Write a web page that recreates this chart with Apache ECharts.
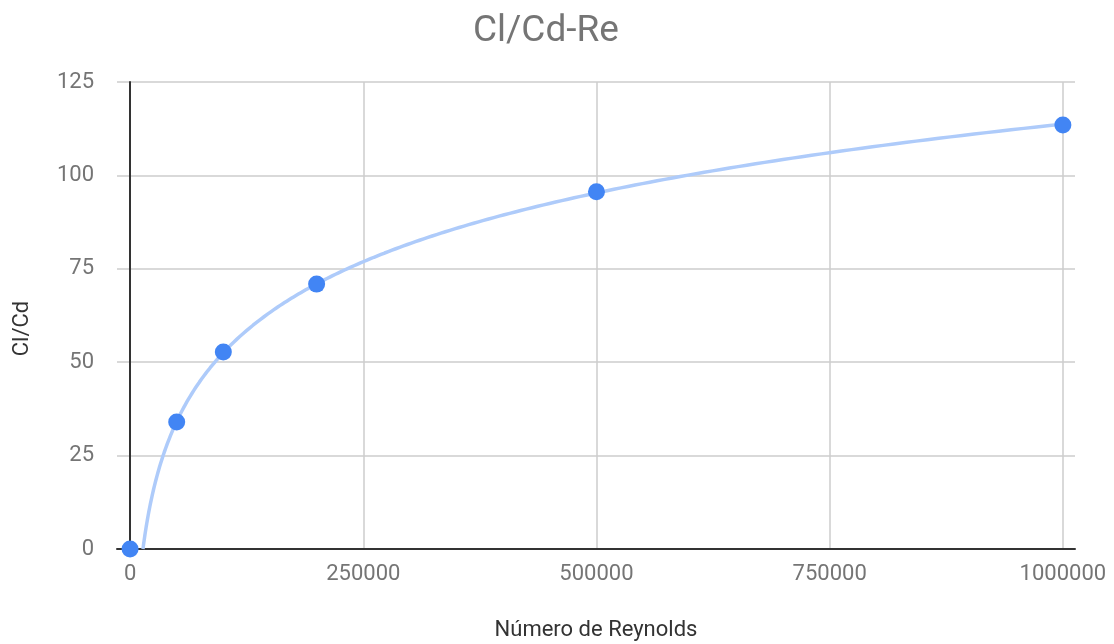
<!DOCTYPE html>
<html>
<head>
<meta charset="utf-8">
<script src="https://cdn.jsdelivr.net/npm/echarts@6/dist/echarts.min.js"></script>
<style>
  html, body { margin: 0; padding: 0; background: #fff; }
  #chart { width: 1114px; height: 644px; }
</style>
</head>
<body>
<div id="chart"></div>
<script>
// Reynolds number vs lift-to-drag ratio
const reynolds = [0, 50000, 100000, 200000, 500000, 1000000];
const clcd = [0, 34.0, 52.7, 70.9, 95.6, 113.5];
const xTicks = [0, 250000, 500000, 750000, 1000000];
const yTicks = [0, 25, 50, 75, 100, 125];

// Logarithmic trendline y = a*ln(x) + b, least squares over the positive x values
function logFit(xs, ys) {
  const px = [], py = [];
  xs.forEach((x, i) => { if (x > 0) { px.push(Math.log(x)); py.push(ys[i]); } });
  const n = px.length;
  const mx = px.reduce((s, v) => s + v, 0) / n;
  const my = py.reduce((s, v) => s + v, 0) / n;
  let sxy = 0, sxx = 0;
  for (let i = 0; i < n; i++) { sxy += (px[i] - mx) * (py[i] - my); sxx += (px[i] - mx) ** 2; }
  const a = sxy / sxx;
  return { a: a, b: my - a * mx };
}
const fit = logFit(reynolds, clcd);
const xStart = Math.exp(-fit.b / fit.a);          // where the trendline meets y = 0
const xEnd = Math.max.apply(null, reynolds);
const trend = [];
for (let i = 0; i <= 300; i++) {
  const x = xStart * Math.pow(xEnd / xStart, i / 300);
  trend.push([x, fit.a * Math.log(x) + fit.b]);
}

const points = reynolds.map((x, i) => [x, clcd[i]]);
const font = 'Roboto, "Noto Sans", sans-serif';

const chart = echarts.init(document.getElementById('chart'), null, { renderer: 'canvas' });
chart.setOption({
  animation: false,
  backgroundColor: '#ffffff',
  title: {
    text: 'Cl/Cd-Re',
    left: 468,
    top: 8,
    textStyle: { fontFamily: font, fontSize: 37, fontWeight: 'normal', color: '#757575' }
  },
  grid: { left: 117, right: 39, top: 82, bottom: 95, containLabel: false, outerBoundsMode: 'none' },
  xAxis: {
    type: 'value',
    min: -14000,
    max: 1013000,
    name: 'Número de Reynolds',
    nameLocation: 'middle',
    nameGap: 70,
    nameTextStyle: { fontFamily: font, fontSize: 22, color: '#333333' },
    axisLine: { show: true, onZero: true, lineStyle: { color: '#333333', width: 2 } },
    axisTick: { show: false, customValues: xTicks },
    axisLabel: { customValues: xTicks, fontFamily: font, fontSize: 22, color: '#757575', margin: 14,
      formatter: v => String(v) },
    splitLine: { show: true, lineStyle: { color: '#cccccc', width: 1.5 } }
  },
  yAxis: {
    type: 'value',
    min: 0,
    max: 125,
    interval: 25,
    name: 'Cl/Cd',
    nameLocation: 'middle',
    nameGap: 84,
    nameTextStyle: { fontFamily: font, fontSize: 22, color: '#333333', padding: [0, 26, 0, 0] },
    axisLine: { show: true, onZero: true, lineStyle: { color: '#333333', width: 2 } },
    axisTick: { show: false },
    axisLabel: { fontFamily: font, fontSize: 22, color: '#757575', margin: 23,
      formatter: v => (yTicks.indexOf(v) >= 0 ? String(v) : '') },
    splitLine: { show: true, lineStyle: { color: '#cccccc', width: 1.5 } }
  },
  series: [
    {
      name: 'Tendencia',
      type: 'line',
      data: trend,
      showSymbol: false,
      smooth: false,
      clip: true,
      lineStyle: { color: '#aecbfa', width: 3.5 },
      z: 2
    },
    {
      name: 'Cl/Cd',
      type: 'scatter',
      data: points,
      symbolSize: 17,
      itemStyle: { color: '#4285f4', opacity: 1 },
      clip: false,
      z: 3
    }
  ]
});
</script>
</body>
</html>
